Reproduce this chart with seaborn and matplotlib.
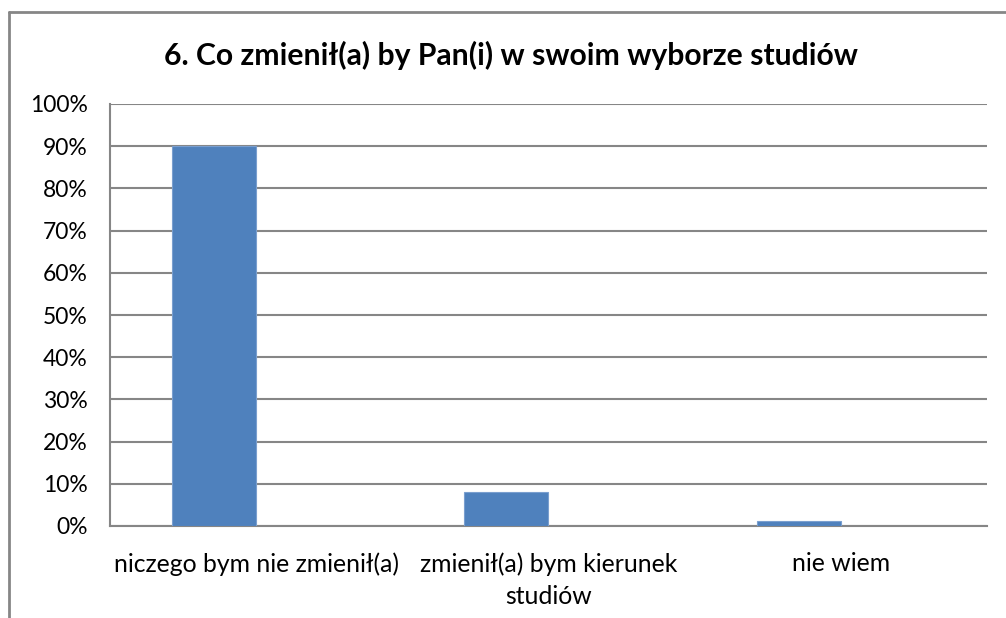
import matplotlib
matplotlib.use("Agg")
import matplotlib.pyplot as plt
import seaborn as sns
import pandas as pd
import numpy as np
from matplotlib.lines import Line2D
from matplotlib.ticker import PercentFormatter

categories = ["niczego bym nie zmienił(a)", "zmienił(a) bym kierunek\nstudiów", "nie wiem"]
values = [90.0, 8.0, 1.25]
series = ["Seria 1", "Seria 2"]  # second series is empty (as in the source chart)
yticks = [0, 10, 20, 30, 40, 50, 60, 70, 80, 90, 100]
title = "6. Co zmienił(a) by Pan(i) w swoim wyborze studiów"

sns.set_theme(style="white")
plt.rcParams['font.family'] = ['Lato', 'DejaVu Sans']

df = pd.DataFrame({
    "cat": categories * 2,
    "val": values + [np.nan] * len(values),
    "series": [series[0]] * len(values) + [series[1]] * len(values),
})

fig = plt.figure(figsize=(10.06, 6.18), dpi=100)
ax = fig.add_axes([110/1006, 1 - 526/618, (987-110)/1006, (526-104)/618])

sns.barplot(data=df, x="cat", y="val", hue="series", palette=["#4F81BD", "#C0504D"],
            saturation=1, width=0.575, gap=0, dodge=True, legend=False, ax=ax, zorder=3,
            edgecolor="#7A9FCF", linewidth=0.8)

grey = "#868686"
ax.set_ylim(0, 100)
ax.set_xlim(-0.5, len(categories) - 0.5)
ax.set_yticks(yticks)
ax.yaxis.set_major_formatter(PercentFormatter(decimals=0))
ax.grid(axis="y", color=grey, linewidth=1.5, zorder=0)
ax.set_axisbelow(True)
for s in ["top", "right"]:
    ax.spines[s].set_visible(False)
for s in ["left", "bottom"]:
    ax.spines[s].set_color(grey)
    ax.spines[s].set_linewidth(1.5)
ax.tick_params(axis="y", length=0, pad=16, labelsize=16.5, labelcolor="black")
ax.tick_params(axis="x", length=0, pad=19, labelsize=17.8, labelcolor="black")
for lab in ax.get_xticklabels():
    lab.set_linespacing(1.45)
ax.set_xlabel("")
ax.set_ylabel("")

fig.text(511/1006, 1 - 55/618, title, ha="center", va="center", fontsize=21.7, fontweight="bold", color="black")

# outer chart border (left and top)
fig.add_artist(Line2D([8.5/1006, 8.5/1006], [0, 1 - 11.5/618], transform=fig.transFigure, color=grey, linewidth=2))
fig.add_artist(Line2D([8.5/1006, 1], [1 - 11.5/618, 1 - 11.5/618], transform=fig.transFigure, color=grey, linewidth=2))

fig.savefig("out.png", dpi=100)
